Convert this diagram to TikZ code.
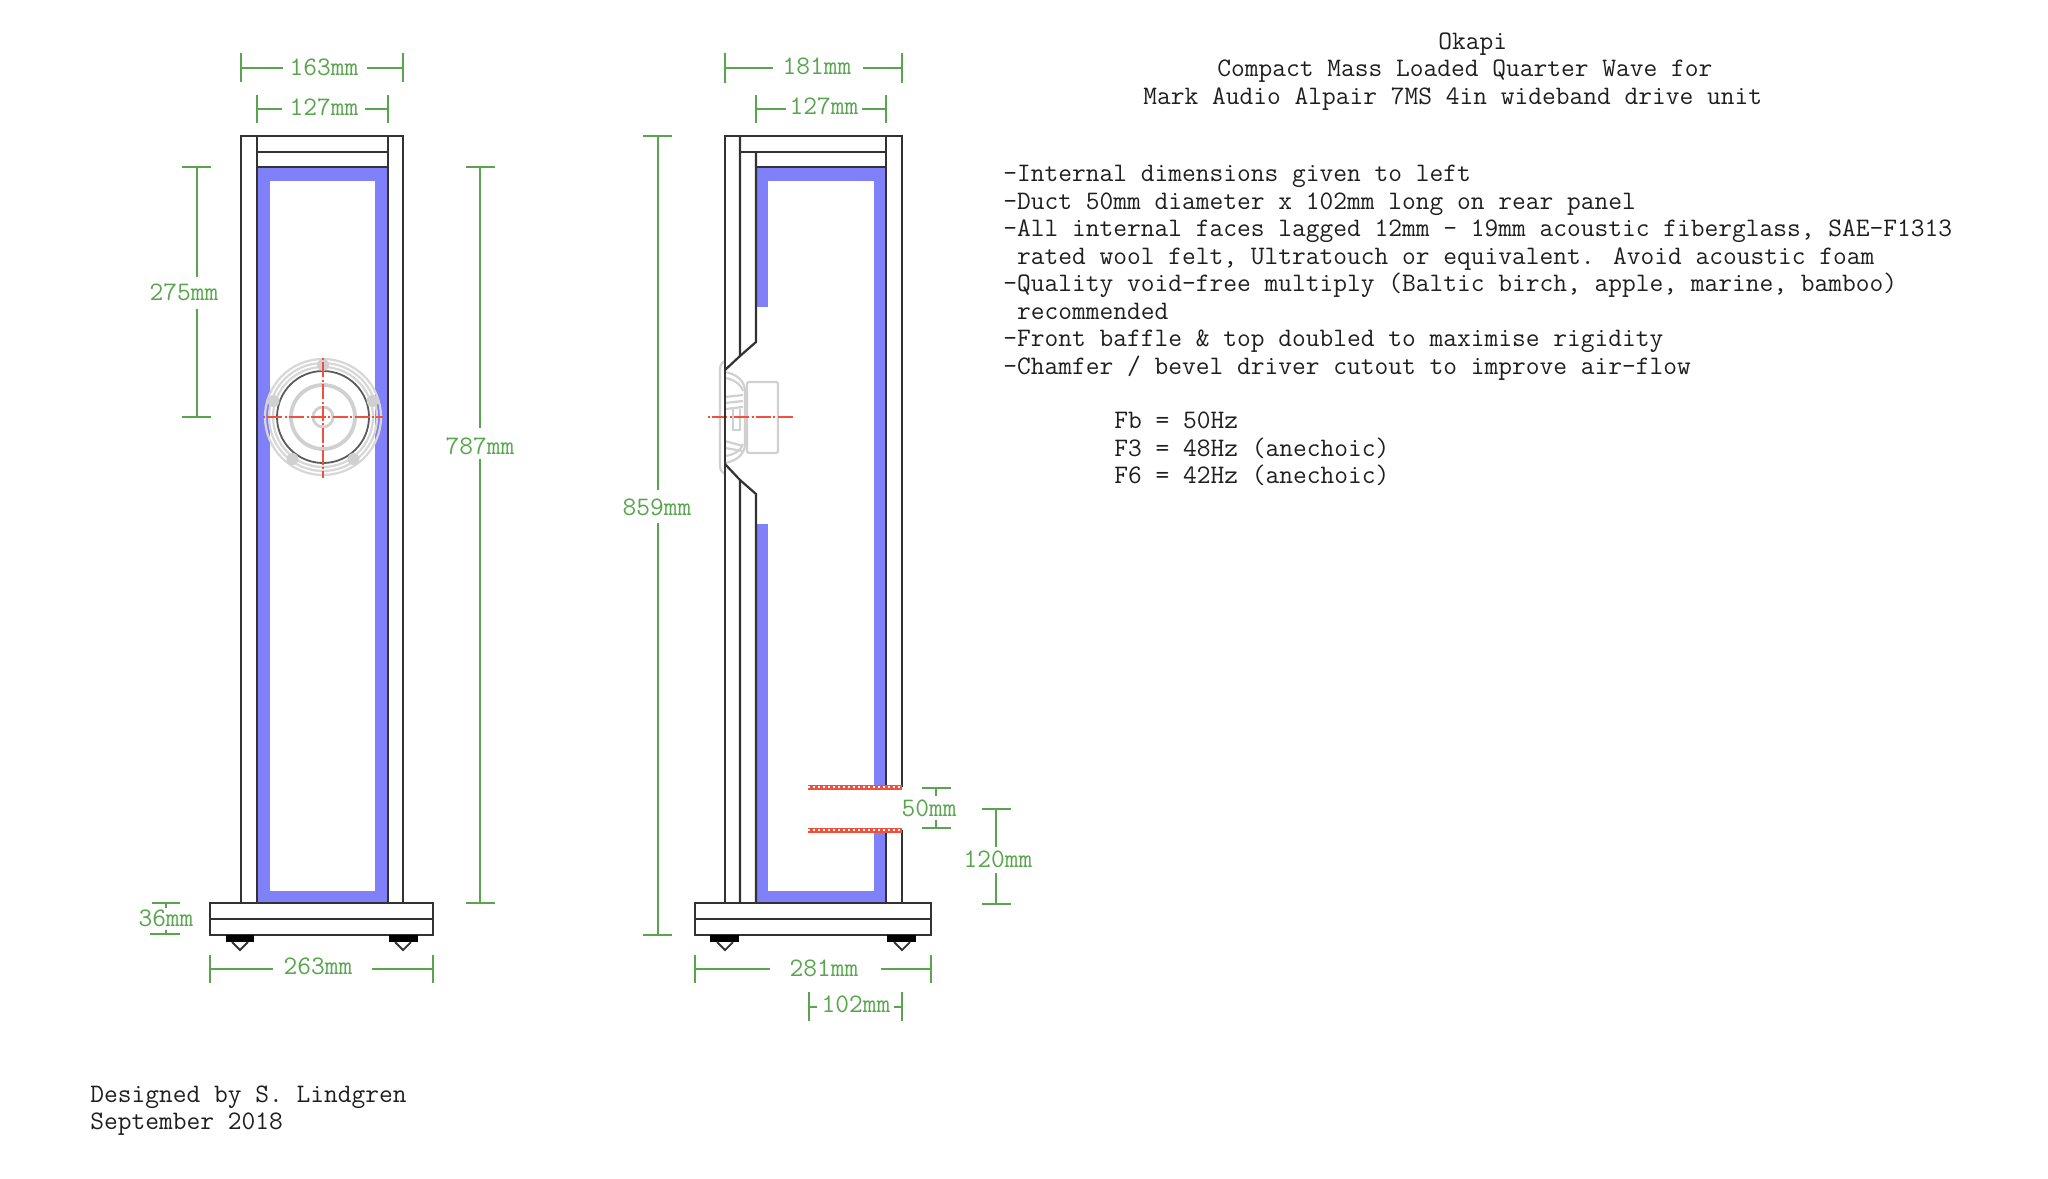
\documentclass[tikz,border=0pt]{standalone}
\usepackage{tikz}

\definecolor{dimgreen}{RGB}{88,165,78}
\definecolor{lagblue}{RGB}{128,128,248}
\definecolor{cutred}{RGB}{240,80,60}
\definecolor{wallgrey}{RGB}{50,50,50}
\definecolor{drivergrey}{RGB}{208,208,208}

\tikzset{
    wall/.style={draw=wallgrey, line width=1.1pt},
    lagging/.style={fill=lagblue},
    hollow/.style={fill=white},
    foot/.style={fill=black},
    spike/.style={draw=wallgrey, line width=0.9pt, fill=white},
    dimline/.style={draw=dimgreen, line width=1.1pt},
    dimlabel/.style={text=dimgreen, inner sep=0pt, font=\fontsize{13.35}{13.75}\selectfont\ttfamily},
    notetext/.style={text=black!88, inner sep=0pt, anchor=west, align=left, font=\fontsize{13.35}{13.75}\selectfont\ttfamily},
    centreline/.style={draw=cutred, line width=1pt, dash pattern=on 1pt off 1.2pt on 7.5pt off 1.2pt},
    driverline/.style={draw=drivergrey, line width=1.1pt},
    drivermark/.style={draw=drivergrey, line width=1.9pt},
    driverdark/.style={draw=wallgrey!80, line width=0.9pt},
    duct/.style={draw=cutred, line width=2.5pt},
    ductdots/.style={draw=white, line width=0.6pt, dash pattern=on 1pt off 1.5pt}
}

\begin{document}
\begin{tikzpicture}[x=0.5pt, y=-0.5pt]
    \useasboundingbox (0, 0) rectangle (2048, 1178);

    % front view: lagging
    \fill[lagging] (257, 167) rectangle (388, 903);
    \fill[hollow] (270, 181) rectangle (375, 891);

    % front view: walls and plinth
    \draw[wall] (241, 136) rectangle (403, 903);
    \draw[wall] (257, 136) -- (257, 903);
    \draw[wall] (388, 136) -- (388, 903);
    \draw[wall] (257, 152) -- (388, 152);
    \draw[wall] (257, 167) -- (388, 167);
    \draw[wall] (210, 903) rectangle (433, 935);
    \draw[wall] (210, 919) -- (433, 919);

    % front view: feet
    \fill[foot] (226, 935) rectangle (254, 942);
    \fill[foot] (389, 935) rectangle (418, 942);
    \draw[spike] (232, 942) -- (240, 950) -- (248, 942);
    \draw[spike] (395, 942) -- (403, 950) -- (411, 942);

    % front view: driver
    \draw[driverline, draw=drivergrey!85] (323, 417) circle (58);
    \draw[driverline, draw=drivergrey!85] (323, 417) circle (54);
    \draw[driverline, draw=drivergrey!85] (323, 417) circle (50);
    \draw[driverdark] (323, 417) circle (46);
    \draw[drivermark] (323, 417) circle (32);
    \draw[drivermark, line width=1.4pt] (323, 417) circle (10);
    \fill[drivergrey] (323, 365) circle (6) (273.5, 401) circle (6) (372.5, 401) circle (6)
        (292.5, 459) circle (6) (353.5, 459) circle (6);
    \draw[centreline] (263, 417) -- (383, 417);
    \draw[centreline] (323, 358) -- (323, 478);

    % side view: lagging, with gaps at driver and duct
    \fill[lagging] (756, 167) rectangle (886, 903);
    \fill[hollow] (768, 181) rectangle (874, 891);
    \fill[hollow] (755, 307) rectangle (768.5, 524);
    \fill[hollow] (873, 787) rectangle (887, 830);

    % side view: driver
    \draw[driverline, rounded corners=2pt] (725, 361) -- (720, 364) -- (720, 471) -- (725, 474);
    \draw[driverline, rounded corners=1pt] (747, 382) rectangle (778, 453);
    \draw[driverline] (725, 372) .. controls (736, 374) and (744, 380) .. (745, 390) -- (745, 445)
        .. controls (744, 455) and (736, 461) .. (725, 463);
    \draw[driverline] (725, 378) .. controls (733, 379) and (741, 384) .. (743, 391);
    \draw[driverline] (725, 456) .. controls (733, 455) and (741, 451) .. (743, 444);
    \draw[driverline] (725, 397) -- (743, 395);
    \draw[driverline] (725, 403) -- (743, 401);
    \draw[driverline] (725, 409) -- (743, 407);
    \draw[driverline] (725, 441) -- (743, 446);
    \draw[driverline] (725, 448) -- (743, 451);
    \draw[driverline] (733, 409) -- (733, 430) -- (740, 430) -- (740, 409);
    \draw[centreline] (708, 417) -- (794, 417);

    % side view: walls and chamfers
    \draw[wall] (725, 903) -- (725, 136) -- (902, 136) -- (902, 787);
    \draw[wall] (902, 830) -- (902, 903);
    \draw[wall] (886, 136) -- (886, 787);
    \draw[wall] (886, 830) -- (886, 903);
    \draw[wall] (740, 136) -- (740, 356) -- (725, 370);
    \draw[wall] (756, 152) -- (756, 342) -- (740, 356);
    \draw[wall] (725, 464) -- (740, 480) -- (740, 903);
    \draw[wall] (740, 480) -- (756, 494) -- (756, 903);
    \draw[wall] (740, 152) -- (886, 152);
    \draw[wall] (756, 167) -- (886, 167);
    \draw[wall] (695, 903) rectangle (931, 935);
    \draw[wall] (695, 919) -- (931, 919);

    % side view: feet
    \fill[foot] (710, 935) rectangle (739, 942);
    \fill[foot] (887, 935) rectangle (916, 942);
    \draw[spike] (717, 942) -- (725, 950) -- (733, 942);
    \draw[spike] (894, 942) -- (902, 950) -- (910, 942);

    % side view: duct
    \draw[duct] (808, 787) -- (902, 787);
    \draw[duct] (808, 830) -- (902, 830);
    \draw[ductdots] (808, 787) -- (902, 787);
    \draw[ductdots] (808, 830) -- (902, 830);

    % front view: dimensions
    \draw[dimline] (241, 53) -- (241, 82) (403, 53) -- (403, 82);
    \draw[dimline] (241, 68) -- (283, 68) (367, 68) -- (403, 68);
    \node[dimlabel] (width163) at (324, 67) {163mm};
    \draw[dimline] (257, 95) -- (257, 123) (388, 95) -- (388, 123);
    \draw[dimline] (257, 109) -- (282, 109) (365, 109) -- (388, 109);
    \node[dimlabel] (width127) at (324, 107) {127mm};
    \draw[dimline] (182, 167) -- (211, 167) (182, 417) -- (211, 417);
    \draw[dimline] (197, 167) -- (197, 277) (197, 309) -- (197, 417);
    \node[dimlabel] (height275) at (184, 292) {275mm};
    \draw[dimline] (466, 167) -- (495, 167) (466, 903) -- (495, 903);
    \draw[dimline] (480, 167) -- (480, 428) (480, 459) -- (480, 903);
    \node[dimlabel] (height787) at (480, 446) {787mm};
    \draw[dimline] (152, 903) -- (180, 903) (150, 934) -- (180, 934);
    \draw[dimline] (166, 903) -- (166, 908) (166, 930) -- (166, 934);
    \node[dimlabel] (height36) at (166, 918) {36mm};
    \draw[dimline] (210, 955) -- (210, 983) (433, 955) -- (433, 983);
    \draw[dimline] (210, 969) -- (273, 969) (372, 969) -- (433, 969);
    \node[dimlabel] (width263) at (318, 966) {263mm};

    % side view: dimensions
    \draw[dimline] (725, 53) -- (725, 83) (902, 53) -- (902, 83);
    \draw[dimline] (725, 68) -- (773, 68) (863, 68) -- (902, 68);
    \node[dimlabel] (depth181) at (817, 66) {181mm};
    \draw[dimline] (756, 95) -- (756, 123) (886, 95) -- (886, 123);
    \draw[dimline] (756, 109) -- (786, 109) (862, 109) -- (886, 109);
    \node[dimlabel] (depth127) at (824, 106) {127mm};
    \draw[dimline] (643, 136) -- (672, 136) (643, 935) -- (672, 935);
    \draw[dimline] (658, 136) -- (658, 490) (658, 523) -- (658, 935);
    \node[dimlabel] (height859) at (657, 507) {859mm};
    \draw[dimline] (922, 788) -- (951, 788) (922, 828) -- (951, 828);
    \draw[dimline] (936, 788) -- (936, 796) (936, 820) -- (936, 828);
    \node[dimlabel] (duct50) at (929, 808) {50mm};
    \draw[dimline] (982, 809) -- (1011, 809) (982, 904) -- (1011, 904);
    \draw[dimline] (996, 809) -- (996, 847) (996, 873) -- (996, 904);
    \node[dimlabel] (duct120) at (998, 859) {120mm};
    \draw[dimline] (695, 955) -- (695, 983) (931, 955) -- (931, 983);
    \draw[dimline] (695, 969) -- (770, 969) (881, 969) -- (931, 969);
    \node[dimlabel] (depth281) at (824, 968) {281mm};
    \draw[dimline] (809, 992) -- (809, 1021) (902, 992) -- (902, 1021);
    \draw[dimline] (809, 1007) -- (817, 1007) (894, 1007) -- (902, 1007);
    \node[dimlabel] (duct102) at (856, 1004) {102mm};

    % title and notes
    \node[notetext] (title) at (1438, 44.5) {Okapi};
    \node[notetext] (subtitle) at (1217, 71.5) {Compact Mass Loaded Quarter Wave for};
    \node[notetext] (unit) at (1143, 99.5) {Mark Audio Alpair 7MS 4in wideband drive unit};
    \node[notetext] (notes) at (1003, 272.5) {-Internal dimensions given to left\\
        -Duct 50mm diameter x 102mm long on rear panel\\
        -All internal faces lagged 12mm - 19mm acoustic fiberglass, SAE-F1313\\
        \ rated wool felt, Ultratouch or equivalent. Avoid acoustic foam\\
        -Quality void-free multiply (Baltic birch, apple, marine, bamboo)\\
        \ recommended\\
        -Front baffle \& top doubled to maximise rigidity\\
        -Chamfer / bevel driver cutout to improve air-flow};
    \node[notetext] (tuning) at (1114, 449) {Fb = 50Hz\\
        F3 = 48Hz (anechoic)\\
        F6 = 42Hz (anechoic)};
    \node[notetext] (credit) at (90, 1110.5) {Designed by S. Lindgren\\September 2018};
\end{tikzpicture}
\end{document}
